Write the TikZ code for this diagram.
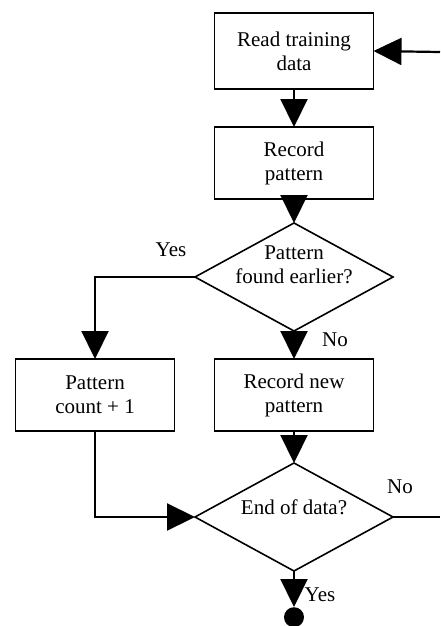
\documentclass[tikz,border=0pt]{standalone}
\usepackage{fontspec}
\setmainfont{Liberation Serif}
\usetikzlibrary{arrows.meta,positioning,shapes.geometric}
\tikzset{
    %Define standard arrow tip
    >={Triangle[length=28pt,width=27pt]},
    %Define style for boxes
    procbox/.style={
           rectangle,
           draw=black, line width=1.8pt,
           minimum width=159pt,
           minimum height=72pt,
           inner sep=0pt, outer sep=0pt,
           align=center,
           font=\fontsize{21}{24}\selectfont},
    % Define style for decisions
    decide/.style={
           diamond,
           draw=black, line width=1.6pt,
           minimum width=198pt,
           minimum height=108pt,
           inner sep=0pt, outer sep=0pt},
    dtext/.style={
           align=center, inner sep=0pt,
           font=\fontsize{21}{24}\selectfont},
    % Define arrow style
    flow/.style={
           ->,
           line width=2.2pt},
    lbl/.style={
           inner sep=0pt,
           font=\fontsize{21}{24}\selectfont}
}

\begin{document}
\begin{tikzpicture}[x=1pt,y=1pt]
\useasboundingbox (0,0) rectangle (440,-626);

\node[procbox, minimum height=76pt] (read) at (294,-51) {Read training\\data};
\node[procbox, below=38pt of read] (record) {Record\\pattern};
\node[decide, below=24pt of record,
      label={[dtext, yshift=12pt]center:{Pattern\\found earlier?}}] (found) {};
\node[procbox, below=28pt of found] (newpat) {Record new\\pattern};
\node[procbox, left=40pt of newpat] (count) {Pattern\\count + 1};
\node[decide, below=32pt of newpat,
      label={[dtext, yshift=10pt]center:{End of data?}}] (end) {};
\node[circle, fill=black, minimum size=20pt, inner sep=0pt, below=36pt of end] (stop) {};

\coordinate (in) at (440,-52);
\coordinate (out) at (end.east -| in);

\draw[flow] (in) -- (read.east);
\draw[flow] (read) -- (record);
\draw[flow] (record) -- (found);
\draw[flow] (found.west) -| (count.north);
\draw[flow] (found) -- (newpat);
\draw[flow] (newpat) -- (end);
\draw[flow] (count.south) |- (end.west);
\draw[line width=2.2pt] (end.east) -- (out);
\draw[flow] (end) -- (stop);

\node[lbl] (yes1) at ([xshift=-24pt,yshift=27pt]found.west) {Yes};
\node[lbl] (no1) at ([xshift=41pt,yshift=-9pt]found.south) {No};
\node[lbl] (no2) at ([xshift=7pt,yshift=30pt]end.east) {No};
\node[lbl] (yes2) at ([xshift=26pt,yshift=-24pt]end.south) {Yes};
\end{tikzpicture}
\end{document}
